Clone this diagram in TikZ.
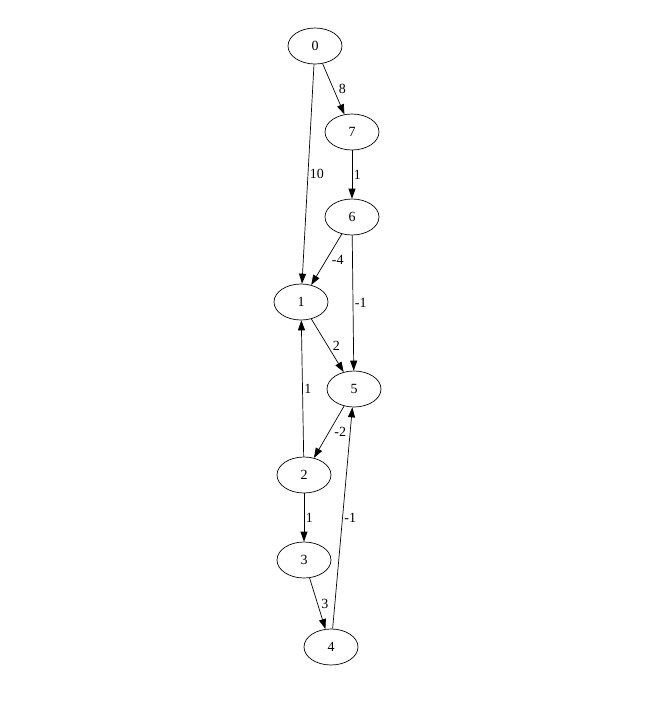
\documentclass[tikz,border=0pt]{standalone}
\usepackage{fontspec}
\setmainfont{Liberation Serif}
\usetikzlibrary{positioning, arrows.meta, shapes.geometric}
\tikzset{vtx/.style={draw, ellipse, line width=0.7pt, minimum width=54pt, minimum height=36pt, inner sep=0pt, font=\fontsize{14}{16}\selectfont}}
\tikzset{arr/.style={draw, line width=0.7pt, -{Triangle[length=10pt, width=7pt]}}}
\tikzset{wt/.style={right, inner sep=1.5pt, font=\fontsize{14}{16}\selectfont}}
\tikzset{wtd/.style={wt, xshift=3.5pt}}

\begin{document}
\begin{tikzpicture}[x=1pt, y=-1pt]
			\useasboundingbox (0,0) rectangle (657,702);
			\node[vtx] (v0) at (315,46) {0};
			\node[vtx] (v7) at (352,132) {7};
			\node[vtx] (v6) at (352,217) {6};
			\node[vtx] (v1) at (301,302) {1};
			\node[vtx] (v5) at (354,389) {5};
			\node[vtx] (v2) at (304,475) {2};
			\node[vtx] (v3) at (304,560) {3};
			\node[vtx] (v4) at (331,647) {4};
			\draw[arr] (v0) -- node[wtd]{8} (v7);
			\draw[arr] (v0) -- node[wt]{10} (v1);
			\draw[arr] (v7) -- node[wt]{1} (v6);
			\draw[arr] (v6) -- node[wtd]{-4} (v1);
			\draw[arr] (v6) -- node[wt]{-1} (v5);
			\draw[arr] (v1) -- node[wtd]{2} (v5);
			\draw[arr] (v5) -- node[wtd]{-2} (v2);
			\draw[arr] (v2) -- node[wt]{1} (v1);
			\draw[arr] (v2) -- node[wt]{1} (v3);
			\draw[arr] (v3) -- node[wt, xshift=2pt]{3} (v4);
			\draw[arr] (v4) -- node[wt]{-1} (v5);
	   \end{tikzpicture}
\end{document}
